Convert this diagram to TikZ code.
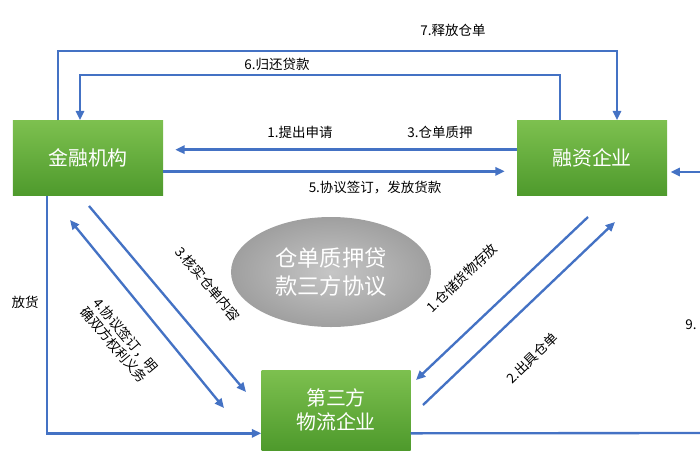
\documentclass[tikz,border=0pt]{standalone}
\usepackage{fontspec}
\setmainfont{Noto Sans CJK SC}
\usetikzlibrary{arrows.meta,shapes.geometric,calc}
\definecolor{boxtop}{HTML}{7DC04F}
\definecolor{boxbot}{HTML}{4E9A2C}
\definecolor{flowblue}{HTML}{4472C4}
\begin{document}
\begin{tikzpicture}[x=0.03cm,y=-0.03cm]
    \tikzstyle{box}=[
      rectangle,
      top color=boxtop,
      bottom color=boxbot,
      draw=none,
      text=white,
      font=\fontsize{17}{20}\selectfont,
      align=center,
    ]
    \tikzstyle{flow}=[line width=2pt,draw=flowblue,-{Triangle[length=8pt,width=7pt]}]
    \tikzstyle{lbl}=[font=\fontsize{11.5}{13}\selectfont,inner sep=1pt]

    \useasboundingbox (0,0) rectangle (700,470);

    % boxes
    {
      \node[box, minimum width=4.5cm, minimum height=2.25cm] (fin) at (88,158) {金融机构};
      \node[box, minimum width=4.5cm, minimum height=2.25cm] (firm) at (592,158) {融资企业};
      \node[box, minimum width=4.47cm, minimum height=2.4cm] (logi) at (336,410) {第三方\\物流企业};
      \node[ellipse, minimum width=6cm, minimum height=3.3cm, inner color=gray!45, outer color=gray!75,
        text=white, align=center, font=\fontsize{19}{24}\selectfont] (pact) at (331,272) {仓单质押贷\\款三方协议};
    }

    % top loops
    {
      \draw[flow] (fin.north -| 58,0) |- (617,51) -- (firm.north -| 617,0);
      \node[lbl] (l7) at (453,30) {7.释放仓单};
      \draw[flow] (firm.north -| 560,0) |- (80,75) -- (fin.north -| 80,0);
      \node[lbl] (l6) at (277,64) {6.归还贷款};
    }

    % between bank and firm
    {
      \draw[flow] ([yshift=0.25cm]firm.west) -- ([xshift=0.36cm,yshift=0.25cm]fin.east);
      \node[lbl] (l1) at (300,132) {1.提出申请};
      \node[lbl] (l3) at (440,132) {3.仓单质押};
      \draw[flow] ([yshift=-0.4cm]fin.east) -- ([yshift=-0.4cm,xshift=-0.36cm]firm.west);
      \node[lbl] (l5) at (375,188) {5.协议签订，发放货款};
    }

    % bank and logistics
    {
      \coordinate (a3s) at (89,206);
      \coordinate (a3e) at (246,392);
      \draw[flow] (a3s) -- (a3e);
      \node[lbl, rotate=-50] (l3b) at (208,284) {3.核实仓单内容};
      \coordinate (a4s) at (70,220);
      \coordinate (a4e) at (224,408);
      \draw[flow, {Triangle[length=8pt,width=7pt]}-{Triangle[length=8pt,width=7pt]}] (a4s) -- (a4e);
      \node[lbl, rotate=-50, align=center] (l4) at (120,340) {4.协议签订，明\\确双方权利义务};
      \draw[flow] (fin.south -| 47,0) |- ([yshift=-0.7cm]logi.west);
      \node[lbl, anchor=east] (l8) at (40,302) {放货};
    }

    % firm and logistics
    {
      \coordinate (b1s) at (588,217);
      \coordinate (b1e) at (416,380);
      \draw[flow] (b1s) -- (b1e);
      \node[lbl, rotate=44] (lb1) at (462,278) {1.仓储货物存放};
      \coordinate (b2s) at (423,405);
      \coordinate (b2e) at (615,222);
      \draw[flow] (b2s) -- (b2e);
      \node[lbl, rotate=44] (lb2) at (532,358) {2.出具仓单};
    }

    % right side
    {
      \coordinate (rgtB) at (700,433);
      \draw[line width=2pt, draw=flowblue] ([yshift=-0.7cm]logi.east) -- (rgtB);
      \coordinate (rgtT) at (702,172);
      \draw[flow] (rgtT) -- ([xshift=0.1cm]firm.east |- rgtT);
      \node[lbl, anchor=west] (l9) at (684,325) {9.};
    }
\end{tikzpicture}
\end{document}
